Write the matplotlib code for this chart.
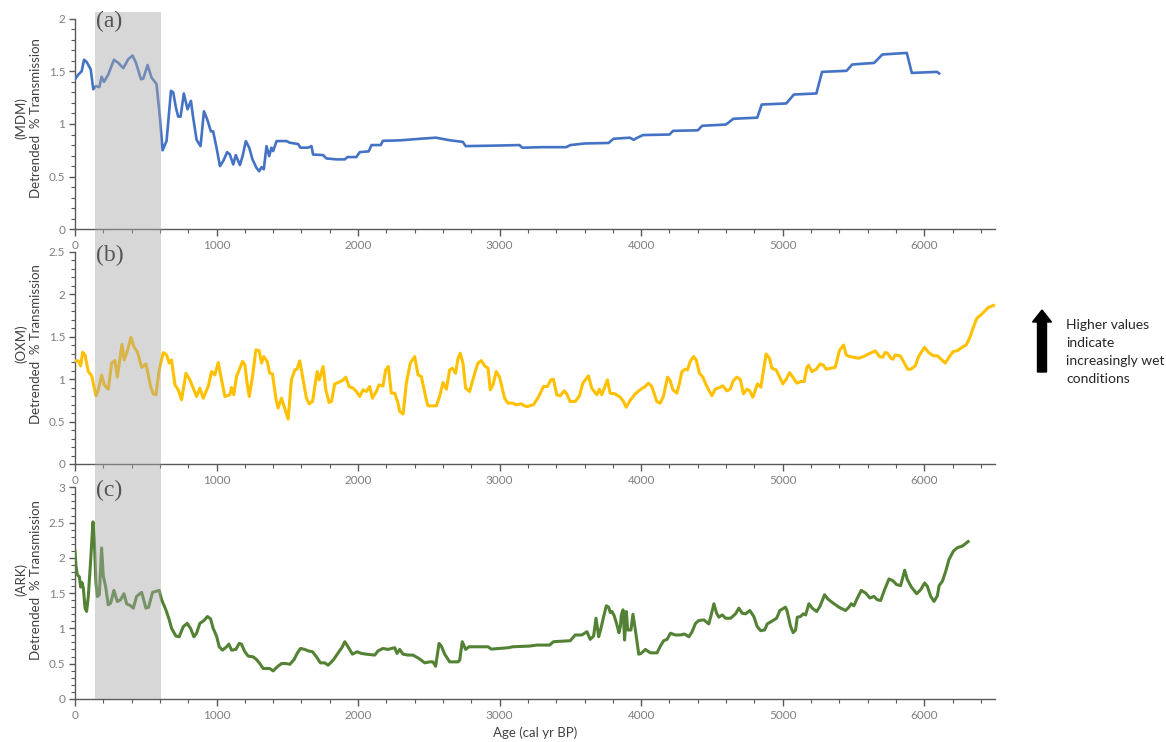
import numpy as np
import matplotlib
matplotlib.use('Agg')
import matplotlib.pyplot as plt
from matplotlib.patches import Rectangle, FancyArrow
from matplotlib.ticker import MultipleLocator, FuncFormatter
import matplotlib.transforms as mtransforms

# ---------------- data ----------------
mdm_age = [0, 24, 47, 64, 82, 111, 129, 148, 172, 188, 205, 235, 275, 306, 341, 376, 407, 431, 466, 482,
           513, 541, 576, 600, 619, 647, 678, 694, 713, 729, 746, 769, 795, 819, 835, 859, 887, 911, 934, 960,
           976, 1000, 1024, 1047, 1075, 1094, 1118, 1136, 1165, 1184, 1207, 1231, 1254, 1282, 1301, 1318, 1334,
           1353, 1372, 1388, 1400, 1424, 1494, 1518, 1576, 1593, 1647, 1671, 1682, 1753, 1776, 1847, 1906, 1925,
           1988, 2012, 2075, 2095, 2160, 2175, 2300, 2440, 2550, 2650, 2740, 2760, 2980, 3140, 3160, 3300, 3470,
           3500, 3600, 3770, 3805, 3920, 3947, 3973, 4013, 4200, 4226, 4400, 4431, 4599, 4652, 4820, 4852, 5025,
           5079, 5238, 5278, 5451, 5491, 5646, 5704, 5877, 5912, 6090, 6105]
mdm_val = [1.425, 1.47, 1.50, 1.61, 1.59, 1.52, 1.33, 1.36, 1.35, 1.45, 1.40, 1.47, 1.61, 1.58, 1.53, 1.615,
           1.65, 1.58, 1.425, 1.43, 1.56, 1.44, 1.38, 1.06, 0.75, 0.84, 1.315, 1.30, 1.155, 1.07, 1.07, 1.29,
           1.14, 1.22, 1.06, 0.85, 0.79, 1.12, 1.045, 0.93, 0.93, 0.775, 0.60, 0.648, 0.733, 0.71, 0.616, 0.705,
           0.61, 0.695, 0.838, 0.775, 0.664, 0.584, 0.552, 0.59, 0.57, 0.79, 0.695, 0.775, 0.743, 0.838, 0.838,
           0.822, 0.81, 0.775, 0.775, 0.79, 0.71, 0.705, 0.673, 0.664, 0.664, 0.686, 0.686, 0.733, 0.74, 0.80,
           0.80, 0.84, 0.845, 0.86, 0.87, 0.845, 0.83, 0.79, 0.795, 0.80, 0.775, 0.78, 0.78, 0.80, 0.815, 0.82,
           0.86, 0.87, 0.85, 0.87, 0.895, 0.90, 0.935, 0.94, 0.983, 0.995, 1.05, 1.06, 1.185, 1.195, 1.28, 1.29,
           1.495, 1.505, 1.565, 1.58, 1.66, 1.675, 1.485, 1.495, 1.48]

oxm_age = [0, 24, 40, 54, 71, 94, 118, 148, 165, 188, 207, 235, 259, 282, 299, 332, 348, 372, 395, 416, 440,
           471, 501, 518, 534, 553, 572, 595, 624, 647, 666, 682, 706, 729, 753, 784, 812, 840, 859, 882, 906,
           941, 965, 988, 1012, 1031, 1059, 1094, 1106, 1122, 1141, 1184, 1200, 1216, 1231, 1254, 1278, 1301,
           1318, 1334, 1358, 1376, 1395, 1419, 1435, 1459, 1489, 1506, 1529, 1553, 1569, 1588, 1612, 1635, 1654,
           1678, 1711, 1725, 1753, 1772, 1795, 1812, 1835, 1859, 1889, 1913, 1936, 1965, 1988, 2012, 2035, 2059,
           2082, 2101, 2129, 2148, 2176, 2195, 2214, 2235, 2259, 2282, 2294, 2318, 2341, 2369, 2400, 2424, 2447,
           2482, 2494, 2553, 2576, 2600, 2624, 2647, 2666, 2689, 2706, 2722, 2741, 2760, 2788, 2824, 2847, 2871,
           2894, 2918, 2934, 2953, 2976, 3000, 3035, 3059, 3094, 3118, 3153, 3176,
           3192, 3239, 3274, 3310, 3338, 3362, 3380, 3404, 3428, 3456, 3474, 3498, 3534, 3564, 3588, 3628, 3651,
           3687, 3705, 3722, 3762, 3781, 3816, 3852, 3875, 3894, 3922, 3958, 3998, 4028, 4052, 4075, 4111, 4134,
           4157, 4186, 4205, 4224, 4252, 4271, 4288, 4311, 4327, 4346, 4370, 4389, 4412, 4436, 4459, 4483, 4500,
           4523, 4558, 4577, 4605, 4629, 4652, 4676, 4700, 4723, 4747, 4766, 4789, 4822, 4846, 4883, 4907, 4923,
           4954, 4982, 5001, 5025, 5048, 5072, 5100, 5128, 5152, 5171, 5183, 5206, 5237, 5265, 5288, 5307, 5341,
           5371, 5401, 5430, 5449, 5472, 5501, 5536, 5571, 5607, 5654, 5684, 5708, 5724, 5741, 5765, 5779, 5795,
           5830, 5854, 5883, 5906, 5936, 5960, 6002, 6031, 6066, 6094, 6125, 6148, 6179, 6203, 6235, 6267, 6297,
           6325, 6344, 6372, 6407, 6454, 6490]
oxm_val = [1.216, 1.216, 1.157, 1.318, 1.286, 1.09, 1.04, 0.804, 0.875, 1.05, 0.933, 0.882, 1.19, 1.22, 1.024,
           1.41, 1.227, 1.345, 1.494, 1.384, 1.325, 1.14, 1.18, 1.05, 0.914, 0.827, 0.816, 1.11, 1.314, 1.286,
           1.19, 1.227, 0.933, 0.875, 0.757, 1.07, 0.992, 0.875, 0.796, 0.894, 0.776, 0.914, 1.09, 1.05, 1.196,
           1.03, 0.796, 0.816, 0.902, 0.816, 1.03, 1.21, 1.17, 0.953, 0.796, 1.03, 1.345, 1.337, 1.19, 1.267,
           1.21, 1.07, 1.063, 0.776, 0.66, 0.776, 0.62, 0.53, 0.992, 1.11, 1.118, 1.216, 0.992, 0.776, 0.71,
           0.737, 1.09, 0.992, 1.15, 0.875, 0.726, 0.737, 0.945, 0.96, 0.984, 1.024, 0.914, 0.894, 0.855, 0.796,
           0.875, 0.855, 0.914, 0.776, 0.855, 0.933, 0.92, 1.11, 1.15, 0.835, 0.835, 0.718, 0.62, 0.59, 0.953,
           1.19, 1.267, 1.05, 1.03, 0.757, 0.686, 0.686, 0.796, 0.96, 0.882, 1.11, 1.13, 1.07, 1.247, 1.306,
           1.19, 0.894, 0.855, 1.07, 1.19, 1.22, 1.157, 1.13, 0.875, 0.933, 1.09, 1.024, 0.776, 0.718, 0.718,
           0.698, 0.71, 0.686,
           0.678, 0.698, 0.788, 0.914, 0.914, 0.992, 1.0, 0.816, 0.804, 0.863, 0.827, 0.737, 0.737, 0.804, 0.953,
           1.04, 0.894, 0.816, 0.882, 0.816, 0.992, 0.835, 0.827, 0.788, 0.737, 0.67, 0.749, 0.827, 0.882, 0.914,
           0.953, 0.914, 0.737, 0.718, 0.796, 1.024, 0.984, 0.875, 0.835, 0.953, 1.09, 1.118, 1.11, 1.208, 1.267,
           1.227, 1.07, 1.024, 0.933, 0.855, 0.804, 0.882, 0.906, 0.922, 0.863, 0.882, 0.984, 1.024, 1.0, 0.827,
           0.882, 0.867, 0.788, 0.945, 0.906, 1.298, 1.247, 1.13, 1.11, 1.012, 0.945, 1.0, 1.078, 1.024, 0.953,
           0.973, 0.973, 1.14, 1.165, 1.09, 1.118, 1.18, 1.165, 1.118, 1.13, 1.14, 1.337, 1.404, 1.286, 1.267,
           1.259, 1.247, 1.267, 1.298, 1.333, 1.267, 1.259, 1.314, 1.306, 1.247, 1.235, 1.286, 1.275, 1.208,
           1.118, 1.118, 1.157, 1.267, 1.376, 1.314, 1.275, 1.275, 1.227, 1.19, 1.267, 1.325, 1.337, 1.376,
           1.404, 1.502, 1.60, 1.718, 1.769, 1.847, 1.87]

ark_age = [0, 7, 16, 31, 40, 49, 59, 71, 82, 94, 111, 127, 136, 148, 158, 172, 188, 200, 216, 235, 252, 275,
           299, 322, 346, 365, 393, 412, 435, 471, 501, 520, 548, 595, 612, 642, 666, 682, 713, 736, 765, 793,
           816, 840, 859, 882, 911, 936, 958, 976, 1000, 1019, 1042, 1071, 1087, 1106, 1136, 1160, 1176, 1200,
           1224, 1259, 1282, 1306, 1329, 1348, 1376, 1400, 1428, 1459, 1489, 1518, 1548, 1569, 1593, 1624, 1647,
           1678, 1706, 1734, 1765, 1788, 1824, 1865, 1889, 1906, 1929, 1960, 1993, 2024, 2059, 2118, 2141, 2176,
           2212, 2235, 2259, 2275, 2294, 2318, 2353, 2388, 2431, 2471, 2506, 2529, 2548, 2572, 2588, 2612, 2647,
           2706, 2718, 2736, 2760, 2784, 2918, 2941, 3000, 3059, 3094, 3212,
           3263, 3353, 3381, 3499, 3534, 3581, 3617, 3640, 3664, 3681, 3700, 3716, 3735, 3754, 3770, 3782, 3794,
           3810, 3829, 3843, 3853, 3860, 3872, 3883, 3895, 3905, 3928, 3942, 3959, 3983, 3999, 4030, 4065, 4112,
           4136, 4159, 4183, 4207, 4242, 4277, 4306, 4337, 4360, 4384, 4407, 4443, 4478, 4495, 4514, 4533, 4549,
           4573, 4596, 4632, 4667, 4690, 4714, 4738, 4768, 4796, 4820, 4844, 4872, 4891, 4919, 4957, 4980, 5020,
           5032, 5055, 5074, 5091, 5103, 5126, 5145, 5162, 5185, 5209, 5240, 5263, 5296, 5320, 5350, 5397, 5444,
           5468, 5484, 5503, 5522, 5555, 5586, 5616, 5645, 5668, 5692, 5720, 5751, 5775, 5805, 5833, 5862, 5881,
           5909, 5947, 5975, 6003, 6022, 6046, 6069, 6093, 6105, 6128, 6152, 6175, 6206, 6234, 6270, 6310]
ark_val = [2.095, 1.88, 1.76, 1.73, 1.585, 1.65, 1.57, 1.285, 1.24, 1.45, 1.976, 2.51, 2.26, 1.64, 1.45, 1.476,
           2.14, 1.74, 1.595, 1.333, 1.357, 1.538, 1.38, 1.405, 1.49, 1.348, 1.32, 1.286, 1.452, 1.51, 1.286,
           1.30, 1.51, 1.538, 1.405, 1.262, 1.12, 1.0, 0.89, 0.88, 1.024, 1.07, 1.0, 0.88, 0.93, 1.07, 1.11,
           1.167, 1.133, 1.0, 0.89, 0.738, 0.69, 0.738, 0.776, 0.69, 0.70, 0.786, 0.776, 0.667, 0.605, 0.595,
           0.557, 0.50, 0.43, 0.43, 0.43, 0.395, 0.452, 0.50, 0.50, 0.49, 0.557, 0.643, 0.714, 0.70, 0.68, 0.667,
           0.595, 0.51, 0.51, 0.476, 0.548, 0.667, 0.738, 0.81, 0.738, 0.633, 0.667, 0.643, 0.633, 0.62, 0.68,
           0.714, 0.70, 0.714, 0.724, 0.643, 0.70, 0.633, 0.62, 0.62, 0.571, 0.51, 0.524, 0.524, 0.462, 0.786,
           0.748, 0.633, 0.524, 0.524, 0.548, 0.81, 0.70, 0.738, 0.738, 0.705, 0.714, 0.724, 0.738, 0.748,
           0.762, 0.762, 0.81, 0.824, 0.905, 0.905, 0.952, 0.843, 0.89, 1.143, 0.88, 1.0, 1.167, 1.319, 1.30,
           1.224, 1.238, 1.176, 1.048, 0.938, 1.024, 1.19, 1.262, 0.833, 1.238, 0.976, 0.976, 1.2, 0.976, 0.633,
           0.643, 0.70, 0.652, 0.652, 0.748, 0.824, 0.843, 0.93, 0.905, 0.905, 0.919, 0.88, 0.952, 1.07, 1.11,
           1.119, 1.062, 1.19, 1.348, 1.214, 1.157, 1.19, 1.143, 1.143, 1.205, 1.286, 1.214, 1.205, 1.252, 1.167,
           1.024, 0.967, 0.976, 1.062, 1.095, 1.143, 1.252, 1.30, 1.238, 1.033, 0.938, 0.976, 1.157, 1.167, 1.205,
           1.19, 1.348, 1.286, 1.238, 1.31, 1.476, 1.414, 1.367, 1.30, 1.252, 1.30, 1.348, 1.319, 1.405, 1.538,
           1.50, 1.43, 1.452, 1.405, 1.395, 1.548, 1.70, 1.68, 1.62, 1.605, 1.824, 1.69, 1.586, 1.49, 1.548,
           1.643, 1.595, 1.452, 1.381, 1.462, 1.605, 1.667, 1.81, 1.976, 2.095, 2.143, 2.167, 2.23]

site_labels = ['(MDM)', '(OXM)', '(ARK)']
panel_tags = ['(a)', '(b)', '(c)']
y_maxes = [2.0, 2.5, 3.0]
line_colors = ['#4472C4', '#FFC000', '#548235']
line_widths = [1.9, 2.2, 2.2]
shade_span = (140, 610)
x_max = 6500
note_text = 'Higher values\nindicate\nincreasingly wet\nconditions'
x_title = 'Age (cal yr BP)'

# ---------------- figure ----------------
W, H = 1166, 742
fig = plt.figure(figsize=(W / 100, H / 100), dpi=100)
SANS = ['Lato', 'DejaVu Sans']
TICK_C = '#7F7F7F'
AX_C = '#595959'

# pixel geometry: (top_px, bottom_px)
rows = [(18.7, 229.3), (252.0, 464.0), (487.3, 698.8)]
left_px, right_px = 75, 995
ylabel_center = [118, 344, 580]

series = [(mdm_age, mdm_val), (oxm_age, oxm_val), (ark_age, ark_val)]
axes = []
for i, (top, bot) in enumerate(rows):
    ax = fig.add_axes([left_px / W, 1 - bot / H, (right_px - left_px) / W, (bot - top) / H])
    axes.append(ax)
    xs, ys = series[i]
    ax.plot(xs, ys, color=line_colors[i], lw=line_widths[i], solid_joinstyle='round', zorder=3)
    ax.set_xlim(0, x_max)
    ax.set_ylim(0, y_maxes[i])
    for s in ['top', 'right']:
        ax.spines[s].set_visible(False)
    for s in ['left', 'bottom']:
        ax.spines[s].set_color(AX_C)
        ax.spines[s].set_linewidth(1.0)
    ax.xaxis.set_major_locator(MultipleLocator(1000))
    ax.xaxis.set_minor_locator(MultipleLocator(200))
    ax.yaxis.set_major_locator(MultipleLocator(0.5))
    ax.yaxis.set_minor_locator(MultipleLocator(0.1))
    ax.yaxis.set_major_formatter(FuncFormatter(lambda v, p: '%g' % v))
    ax.tick_params(axis='both', which='major', direction='out', color=AX_C, width=1.0,
                   labelcolor=TICK_C, labelsize=8.5, pad=3)
    ax.tick_params(axis='x', which='major', length=5)
    ax.tick_params(axis='y', which='major', length=4)
    ax.tick_params(axis='both', which='minor', direction='out', color=AX_C, width=0.8, length=3)
    for lab in ax.get_xticklabels() + ax.get_yticklabels():
        lab.set_family(SANS)
    ax.patch.set_alpha(0)
    ax.text(0.023, 1.035, panel_tags[i], transform=ax.transAxes, ha='left', va='top',
            fontsize=17, family=['Liberation Serif', 'DejaVu Serif'], color='#111111', zorder=5)
    fig.text(28.5 / W, 1 - ylabel_center[i] / H, site_labels[i] + '\nDetrended  % Transmission',
             rotation=90, ha='center', va='center', multialignment='center',
             fontsize=9.5, family=SANS, color='#404040', linespacing=1.25)

# gray shaded interval spanning all panels
blend = mtransforms.blended_transform_factory(axes[2].transData, fig.transFigure)
y0 = 1 - 698.8 / H
y1 = 1 - 12 / H
rect = Rectangle((shade_span[0], y0), shade_span[1] - shade_span[0], y1 - y0,
                 transform=blend, facecolor='#A8A8A8', edgecolor='none', alpha=0.45, zorder=4)
fig.add_artist(rect)

# arrow + note
ax_x = 1042 / W
fig.add_artist(FancyArrow(ax_x, 1 - 372 / H, 0, (372 - 310) / H, width=9 / W, head_width=19 / W,
                          head_length=12 / H, length_includes_head=True, color='black',
                          transform=fig.transFigure))
fig.text(1066 / W, 1 - 352 / H, note_text, ha='left', va='center', fontsize=10, family=SANS,
         color='#262626', linespacing=1.6)

fig.text(535 / W, 1 - 733 / H, x_title, ha='center', va='center', fontsize=9.5, family=SANS,
         color='#404040')

fig.savefig('out.png', dpi=100)
